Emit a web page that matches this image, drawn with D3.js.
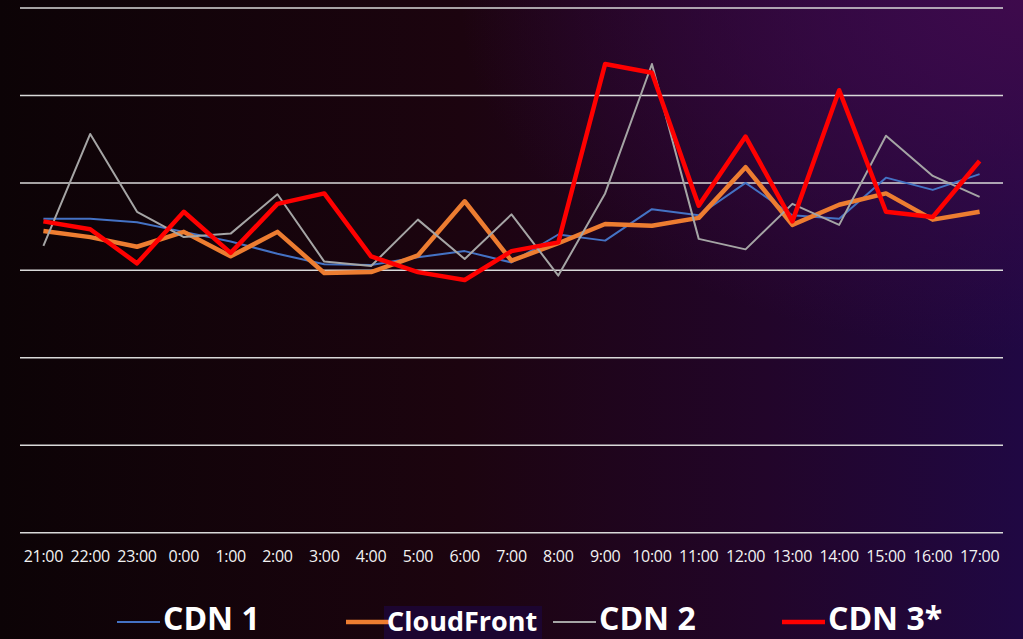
<!DOCTYPE html>
<html>
<head>
<meta charset="utf-8">
<script src="https://cdn.jsdelivr.net/npm/d3@7"></script>
<style>
  html, body { margin: 0; padding: 0; background: #0c0306; }
  svg { display: block; }
</style>
</head>
<body>
<div id="chart"></div>
<script>
// hours on the x axis
var hours = ["21:00","22:00","23:00","0:00","1:00","2:00","3:00","4:00","5:00","6:00","7:00",
             "8:00","9:00","10:00","11:00","12:00","13:00","14:00","15:00","16:00","17:00"];

// series values (arbitrary units)
var cdn1       = [35.9,35.9,35.5,34.4,33.3,31.9,30.7,30.6,31.5,32.2,30.9,34.1,33.4,37.0,36.3,40.0,36.3,35.9,40.6,39.2,41.0];
var cloudFront = [34.5,33.8,32.7,34.4,31.6,34.4,29.7,29.8,31.7,37.9,31.1,33.1,35.3,35.1,36.0,41.8,35.2,37.5,38.8,35.8,36.7];
var cdn2       = [32.8,45.6,36.7,33.8,34.2,38.7,31.0,30.5,35.8,31.3,36.4,29.4,38.8,53.6,33.6,32.4,37.6,35.2,45.4,40.8,38.4];
var cdn3       = [35.6,34.7,30.8,36.7,32.0,37.6,38.8,31.6,29.8,28.9,32.2,33.2,53.6,52.6,37.4,45.3,35.6,50.6,36.7,36.1,42.5];

var gridTicks = [0,10,20,30,40,50,60];

var seriesNames  = ["CDN 1","CloudFront","CDN 2","CDN 3*"];
var seriesValues = [cdn1, cloudFront, cdn2, cdn3];
var seriesColors = ["#4472c4","#ed7d31","#a5a5a5","#ff0000"];
var seriesWidths = [2, 4.5, 2, 4.5];

function drawChart(){

    var width = 1023,
        height = 639;

    var svg = d3.select("#chart")
        .append("svg")
        .attr("width", width)
        .attr("height", height);

    // background gradients
    var defs = svg.append("defs");
    var bg = defs.append("linearGradient")
        .attr("id", "bg")
        .attr("x1", "0%").attr("y1", "0%")
        .attr("x2", "100%").attr("y2", "0%");
    bg.append("stop").attr("offset", "0%").attr("stop-color", "#0c0306");
    bg.append("stop").attr("offset", "45%").attr("stop-color", "#1c040f");
    bg.append("stop").attr("offset", "75%").attr("stop-color", "#22052a");
    bg.append("stop").attr("offset", "100%").attr("stop-color", "#200843");

    var glow = defs.append("radialGradient")
        .attr("id", "glow")
        .attr("cx", "100%").attr("cy", "0%").attr("r", "55%");
    glow.append("stop").attr("offset", "0%").attr("stop-color", "#3e0a4c").attr("stop-opacity", 1);
    glow.append("stop").attr("offset", "100%").attr("stop-color", "#3e0a4c").attr("stop-opacity", 0);

    svg.append("rect").attr("width", width).attr("height", height).attr("fill", "url(#bg)");
    svg.append("rect").attr("width", width).attr("height", height).attr("fill", "url(#glow)");

    // scales
    var x = d3.scaleBand()
        .domain(hours)
        .range([20, 1003]);

    var y = d3.scaleLinear()
        .domain([0, 60])
        .range([532.7, 8]);

    // gridlines
    svg.append("g")
        .selectAll("line")
        .data(gridTicks)
        .enter()
        .append("line")
        .attr("x1", 20)
        .attr("x2", 1003)
        .attr("y1", function(d){ return y(d); })
        .attr("y2", function(d){ return y(d); })
        .attr("stroke", "#d9d9d9")
        .attr("stroke-width", 1.5);

    // x axis labels
    var xAxis = d3.axisBottom(x).tickSize(0).tickPadding(0);
    var gx = svg.append("g")
        .attr("transform", "translate(0,551)")
        .call(xAxis);
    gx.select(".domain").remove();
    gx.selectAll("text")
        .attr("fill", "#f2f2f2")
        .attr("dy", "0.71em")
        .style("font-family", "'Open Sans', sans-serif")
        .style("font-size", "16px")
        .style("letter-spacing", "-0.3px");

    // lines
    var line = d3.line()
        .x(function(d, i){ return x(hours[i]) + x.bandwidth() / 2; })
        .y(function(d){ return y(d); });

    svg.append("g")
        .selectAll("path")
        .data(seriesValues)
        .enter()
        .append("path")
        .attr("d", line)
        .attr("fill", "none")
        .attr("stroke", function(d, i){ return seriesColors[i]; })
        .attr("stroke-width", function(d, i){ return seriesWidths[i]; })
        .attr("stroke-linejoin", "round");

    // legend
    var legendX = [117, 346, 553, 782];
    var legendY = 622;
    var legendFont = [32, 27, 32, 32];
    var textX = [46, 41, 46, 46];

    // highlight box behind CloudFront
    svg.append("rect")
        .attr("x", 384).attr("y", 606)
        .attr("width", 158).attr("height", 33)
        .attr("fill", "#1c0530");

    var leg = svg.append("g")
        .selectAll("g")
        .data(seriesNames)
        .enter()
        .append("g")
        .attr("transform", function(d, i){ return "translate(" + legendX[i] + "," + legendY + ")"; });

    leg.append("line")
        .attr("x1", 0).attr("x2", 43)
        .attr("stroke", function(d, i){ return seriesColors[i]; })
        .attr("stroke-width", function(d, i){ return seriesWidths[i]; });

    leg.append("text")
        .attr("x", function(d, i){ return textX[i]; })
        .attr("y", function(d, i){ return i == 1 ? 8.5 : 8; })
        .attr("fill", "#ffffff")
        .style("font-family", "'Open Sans', sans-serif")
        .style("font-weight", "bold")
        .style("font-size", function(d, i){ return legendFont[i] + "px"; })
        .text(function(d){ return d; });
}

window.onload = drawChart;
</script>
</body>
</html>
